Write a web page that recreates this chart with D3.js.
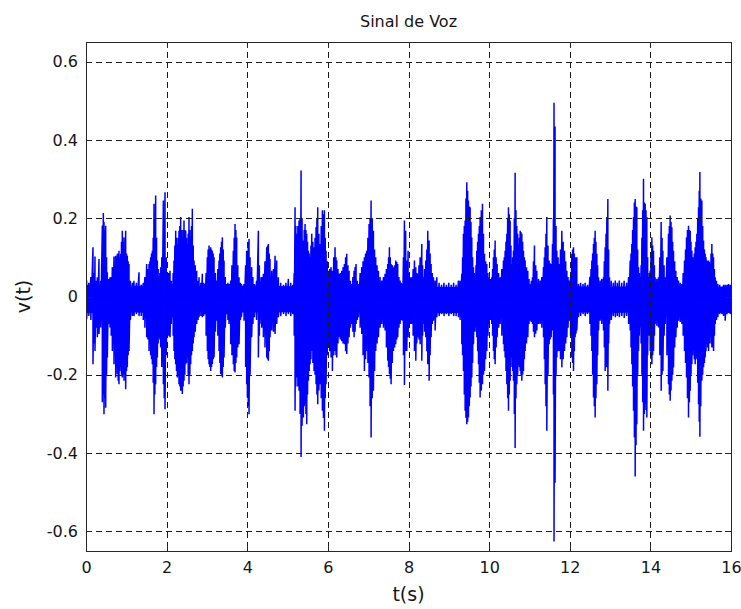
<!DOCTYPE html>
<html>
<head>
<meta charset="utf-8">
<script src="https://cdn.jsdelivr.net/npm/d3@7"></script>
<style>
  html, body { margin: 0; padding: 0; background: #ffffff; }
  svg { display: block; }
  text { font-family: "DejaVu Sans", "Liberation Sans", sans-serif; fill: #151515; }
</style>
</head>
<body>
<svg id="chart" width="741" height="609"></svg>
<script>
// ---- axis ticks ----
const xTicks = [0, 2, 4, 6, 8, 10, 12, 14, 16];
const xTickLabels = ["0", "2", "4", "6", "8", "10", "12", "14", "16"];
const yTicks = [-0.6, -0.4, -0.2, 0, 0.2, 0.4, 0.6];
const yTickLabels = ["-0.6", "-0.4", "-0.2", "0", "0.2", "0.4", "0.6"];

// ---- speech signal: per-instant positive / negative excursions (t in s, v(t)) ----
const tSec = [
  0, 0.016, 0.07, 0.12, 0.173, 0.2, 0.223, 0.25, 0.281, 0.322,
  0.364, 0.405, 0.43, 0.446, 0.47, 0.488, 0.51, 0.529, 0.56, 0.595,
  0.625, 0.653, 0.694, 0.736, 0.757, 0.777, 0.798, 0.818, 0.84, 0.86,
  0.88, 0.901, 0.92, 0.943, 0.963, 0.984, 1.005, 1.025, 1.046, 1.067,
  1.1, 1.15, 1.19, 1.25, 1.315, 1.37, 1.42, 1.46, 1.505, 1.535,
  1.563, 1.584, 1.604, 1.625, 1.646, 1.667, 1.687, 1.708, 1.728, 1.75,
  1.77, 1.79, 1.811, 1.832, 1.852, 1.88, 1.919, 1.94, 1.96, 1.99,
  2.018, 2.05, 2.084, 2.115, 2.142, 2.162, 2.183, 2.204, 2.225, 2.245,
  2.266, 2.287, 2.307, 2.328, 2.349, 2.37, 2.39, 2.41, 2.431, 2.452,
  2.473, 2.494, 2.514, 2.535, 2.555, 2.576, 2.597, 2.617, 2.638, 2.66,
  2.68, 2.71, 2.746, 2.78, 2.804, 2.85, 2.886, 2.92, 2.944, 2.98,
  3.01, 3.03, 3.052, 3.072, 3.093, 3.113, 3.134, 3.155, 3.176, 3.21,
  3.242, 3.27, 3.3, 3.32, 3.341, 3.362, 3.383, 3.404, 3.424, 3.455,
  3.49, 3.52, 3.548, 3.589, 3.62, 3.655, 3.676, 3.697, 3.718, 3.738,
  3.765, 3.796, 3.83, 3.854, 3.92, 3.96, 3.986, 4.003, 4.025, 4.044,
  4.07, 4.11, 4.14, 4.177, 4.23, 4.276, 4.3, 4.317, 4.36, 4.4,
  4.44, 4.483, 4.504, 4.524, 4.545, 4.565, 4.607, 4.65, 4.69, 4.731,
  4.772, 4.83, 4.9, 4.96, 5.02, 5.08, 5.13, 5.165, 5.186, 5.206,
  5.227, 5.256, 5.285, 5.31, 5.335, 5.36, 5.392, 5.413, 5.434, 5.455,
  5.475, 5.496, 5.517, 5.537, 5.558, 5.58, 5.6, 5.628, 5.657, 5.682,
  5.707, 5.728, 5.748, 5.777, 5.806, 5.835, 5.864, 5.89, 5.914, 5.935,
  5.955, 5.985, 6.013, 6.046, 6.079, 6.112, 6.145, 6.178, 6.2, 6.22,
  6.25, 6.277, 6.31, 6.344, 6.377, 6.41, 6.44, 6.468, 6.497, 6.526,
  6.56, 6.592, 6.62, 6.65, 6.675, 6.699, 6.73, 6.757, 6.8, 6.84,
  6.873, 6.906, 6.935, 6.964, 6.993, 7.022, 7.047, 7.072, 7.1, 7.13,
  7.158, 7.187, 7.22, 7.254, 7.295, 7.336, 7.378, 7.419, 7.452, 7.485,
  7.506, 7.527, 7.548, 7.568, 7.597, 7.626, 7.655, 7.684, 7.708, 7.733,
  7.762, 7.791, 7.82, 7.849, 7.875, 7.899, 7.93, 7.957, 7.99, 8.014,
  8.05, 8.081, 8.115, 8.148, 8.181, 8.205, 8.23, 8.26, 8.288, 8.33,
  8.35, 8.371, 8.4, 8.429, 8.455, 8.478, 8.512, 8.536, 8.561, 8.59,
  8.619, 8.66, 8.702, 8.76, 8.82, 8.88, 8.94, 9.0, 9.06, 9.12,
  9.18, 9.239, 9.28, 9.322, 9.342, 9.363, 9.384, 9.405, 9.425, 9.446,
  9.467, 9.487, 9.508, 9.529, 9.55, 9.57, 9.59, 9.612, 9.632, 9.653,
  9.674, 9.694, 9.715, 9.736, 9.756, 9.777, 9.806, 9.835, 9.86, 9.885,
  9.914, 9.942, 9.97, 10.0, 10.033, 10.066, 10.087, 10.108, 10.128, 10.149,
  10.174, 10.199, 10.236, 10.273, 10.315, 10.356, 10.377, 10.397, 10.418, 10.439,
  10.46, 10.48, 10.5, 10.521, 10.542, 10.563, 10.584, 10.604, 10.625, 10.645,
  10.666, 10.687, 10.708, 10.728, 10.75, 10.77, 10.79, 10.811, 10.832, 10.852,
  10.873, 10.894, 10.927, 10.96, 10.99, 11.018, 11.047, 11.076, 11.1, 11.125,
  11.155, 11.183, 11.225, 11.266, 11.307, 11.349, 11.37, 11.39, 11.41, 11.431,
  11.46, 11.489, 11.514, 11.539, 11.572, 11.595, 11.61, 11.635, 11.66, 11.68,
  11.71, 11.737, 11.77, 11.804, 11.837, 11.87, 11.9, 11.928, 11.957, 11.986,
  12.02, 12.051, 12.072, 12.093, 12.113, 12.134, 12.155, 12.175, 12.217, 12.27,
  12.33, 12.382, 12.44, 12.5, 12.528, 12.548, 12.568, 12.589, 12.61, 12.63,
  12.65, 12.672, 12.692, 12.713, 12.754, 12.795, 12.837, 12.858, 12.879, 12.9,
  12.92, 12.945, 12.965, 12.986, 13.03, 13.08, 13.13, 13.18, 13.23, 13.29,
  13.35, 13.41, 13.46, 13.499, 13.52, 13.54, 13.56, 13.582, 13.603, 13.623,
  13.644, 13.664, 13.685, 13.706, 13.726, 13.747, 13.77, 13.79, 13.81, 13.83,
  13.85, 13.871, 13.891, 13.912, 13.933, 13.954, 13.975, 13.995, 14.016, 14.037,
  14.057, 14.078, 14.1, 14.119, 14.16, 14.202, 14.235, 14.268, 14.29, 14.31,
  14.34, 14.367, 14.41, 14.45, 14.47, 14.491, 14.512, 14.533, 14.553, 14.574,
  14.603, 14.632, 14.665, 14.698, 14.74, 14.781, 14.814, 14.847, 14.872, 14.897,
  14.92, 14.946, 14.967, 14.988, 15.008, 15.029, 15.05, 15.07, 15.09, 15.112,
  15.132, 15.153, 15.174, 15.195, 15.212, 15.228, 15.25, 15.277, 15.298, 15.319,
  15.34, 15.36, 15.38, 15.401, 15.422, 15.443, 15.463, 15.484, 15.505, 15.525,
  15.546, 15.567, 15.588, 15.608, 15.64, 15.674, 15.72, 15.774, 15.815, 15.856,
  15.9, 15.939, 15.98, 16
];
const vPeak = [
  0.03, 0.041, 0.035, 0.05, 0.126, 0.06, 0.102, 0.04, 0.049, 0.096,
  0.04, 0.181, 0.213, 0.19, 0.17, 0.181, 0.1, 0.062, 0.045, 0.049,
  0.05, 0.075, 0.102, 0.104, 0.1, 0.109, 0.11, 0.117, 0.1, 0.109,
  0.14, 0.168, 0.14, 0.151, 0.12, 0.168, 0.11, 0.104, 0.09, 0.083,
  0.04, 0.035, 0.04, 0.035, 0.062, 0.03, 0.035, 0.05, 0.083, 0.07,
  0.083, 0.09, 0.1, 0.11, 0.117, 0.15, 0.237, 0.2, 0.258, 0.15,
  0.092, 0.07, 0.049, 0.06, 0.075, 0.1, 0.245, 0.2, 0.266, 0.1,
  0.049, 0.06, 0.066, 0.04, 0.032, 0.06, 0.092, 0.13, 0.168, 0.15,
  0.134, 0.15, 0.168, 0.18, 0.203, 0.17, 0.151, 0.17, 0.194, 0.17,
  0.168, 0.15, 0.134, 0.16, 0.203, 0.17, 0.151, 0.18, 0.224, 0.13,
  0.092, 0.08, 0.066, 0.04, 0.049, 0.035, 0.058, 0.035, 0.032, 0.06,
  0.1, 0.12, 0.13, 0.12, 0.126, 0.12, 0.117, 0.11, 0.1, 0.06,
  0.041, 0.07, 0.092, 0.11, 0.126, 0.14, 0.151, 0.12, 0.092, 0.05,
  0.032, 0.035, 0.032, 0.041, 0.08, 0.117, 0.15, 0.185, 0.17, 0.151,
  0.08, 0.049, 0.035, 0.032, 0.032, 0.08, 0.117, 0.117, 0.14, 0.147,
  0.1, 0.075, 0.05, 0.032, 0.04, 0.168, 0.08, 0.049, 0.05, 0.058,
  0.09, 0.126, 0.13, 0.134, 0.11, 0.096, 0.066, 0.07, 0.104, 0.092,
  0.049, 0.035, 0.03, 0.035, 0.045, 0.035, 0.03, 0.06, 0.228, 0.18,
  0.16, 0.18, 0.194, 0.2, 0.322, 0.2, 0.143, 0.17, 0.185, 0.17,
  0.16, 0.14, 0.117, 0.11, 0.1, 0.13, 0.16, 0.14, 0.126, 0.15,
  0.177, 0.2, 0.228, 0.16, 0.134, 0.18, 0.22, 0.21, 0.22, 0.15,
  0.117, 0.09, 0.066, 0.07, 0.075, 0.066, 0.1, 0.126, 0.1, 0.092,
  0.07, 0.058, 0.06, 0.066, 0.075, 0.083, 0.1, 0.109, 0.08, 0.066,
  0.04, 0.032, 0.05, 0.066, 0.075, 0.083, 0.04, 0.032, 0.06, 0.075,
  0.09, 0.1, 0.11, 0.117, 0.15, 0.185, 0.2, 0.245, 0.2, 0.168,
  0.12, 0.1, 0.08, 0.066, 0.05, 0.041, 0.05, 0.058, 0.07, 0.083,
  0.1, 0.126, 0.1, 0.083, 0.08, 0.075, 0.08, 0.092, 0.088, 0.083,
  0.05, 0.041, 0.035, 0.032, 0.1, 0.194, 0.168, 0.092, 0.117, 0.06,
  0.049, 0.049, 0.07, 0.092, 0.075, 0.06, 0.058, 0.08, 0.1, 0.134,
  0.08, 0.049, 0.07, 0.092, 0.12, 0.168, 0.143, 0.11, 0.083, 0.06,
  0.049, 0.041, 0.049, 0.035, 0.03, 0.035, 0.03, 0.035, 0.03, 0.035,
  0.03, 0.041, 0.04, 0.058, 0.1, 0.16, 0.18, 0.194, 0.25, 0.292,
  0.27, 0.245, 0.23, 0.228, 0.19, 0.151, 0.1, 0.075, 0.06, 0.049,
  0.08, 0.117, 0.14, 0.16, 0.18, 0.203, 0.22, 0.237, 0.16, 0.109,
  0.09, 0.083, 0.06, 0.049, 0.045, 0.049, 0.07, 0.1, 0.12, 0.143,
  0.1, 0.083, 0.06, 0.049, 0.07, 0.092, 0.1, 0.117, 0.14, 0.16,
  0.2, 0.228, 0.21, 0.194, 0.13, 0.083, 0.1, 0.117, 0.2, 0.316,
  0.22, 0.18, 0.16, 0.134, 0.15, 0.168, 0.165, 0.16, 0.14, 0.117,
  0.1, 0.092, 0.075, 0.066, 0.045, 0.032, 0.04, 0.049, 0.09, 0.13,
  0.08, 0.066, 0.045, 0.041, 0.05, 0.075, 0.1, 0.126, 0.16, 0.203,
  0.13, 0.092, 0.085, 0.083, 0.134, 0.2, 0.495, 0.434, 0.18, 0.117,
  0.1, 0.083, 0.12, 0.168, 0.14, 0.117, 0.09, 0.066, 0.05, 0.041,
  0.05, 0.109, 0.12, 0.126, 0.11, 0.1, 0.1, 0.1, 0.032, 0.035,
  0.032, 0.035, 0.03, 0.05, 0.07, 0.092, 0.11, 0.134, 0.15, 0.168,
  0.14, 0.109, 0.08, 0.049, 0.041, 0.045, 0.049, 0.09, 0.126, 0.16,
  0.203, 0.249, 0.12, 0.049, 0.04, 0.035, 0.041, 0.035, 0.041, 0.035,
  0.04, 0.035, 0.05, 0.092, 0.11, 0.134, 0.17, 0.203, 0.24, 0.249,
  0.23, 0.228, 0.12, 0.075, 0.06, 0.049, 0.08, 0.15, 0.22, 0.301,
  0.24, 0.237, 0.22, 0.203, 0.1, 0.049, 0.06, 0.066, 0.11, 0.151,
  0.13, 0.117, 0.08, 0.049, 0.045, 0.049, 0.1, 0.19, 0.15, 0.117,
  0.08, 0.049, 0.1, 0.16, 0.18, 0.207, 0.19, 0.177, 0.14, 0.117,
  0.09, 0.066, 0.05, 0.041, 0.035, 0.032, 0.06, 0.092, 0.12, 0.151,
  0.17, 0.181, 0.17, 0.168, 0.14, 0.117, 0.1, 0.092, 0.11, 0.126,
  0.14, 0.16, 0.2, 0.228, 0.27, 0.318, 0.25, 0.245, 0.18, 0.143,
  0.12, 0.109, 0.1, 0.092, 0.09, 0.092, 0.088, 0.083, 0.11, 0.134,
  0.11, 0.1, 0.07, 0.049, 0.04, 0.032, 0.03, 0.025, 0.03, 0.03,
  0.03, 0.032, 0.03, 0.028
];
const vTrough = [
  -0.045, -0.058, -0.05, -0.06, -0.173, -0.12, -0.139, -0.08, -0.104, -0.096,
  -0.079, -0.27, -0.25, -0.301, -0.26, -0.284, -0.2, -0.156, -0.07, -0.079,
  -0.1, -0.139, -0.173, -0.207, -0.181, -0.198, -0.215, -0.224, -0.19, -0.181,
  -0.2, -0.207, -0.2, -0.215, -0.2, -0.237, -0.19, -0.181, -0.15, -0.139,
  -0.06, -0.05, -0.05, -0.045, -0.05, -0.05, -0.06, -0.08, -0.104, -0.11,
  -0.139, -0.12, -0.15, -0.16, -0.173, -0.22, -0.301, -0.25, -0.224, -0.18,
  -0.156, -0.12, -0.104, -0.11, -0.13, -0.18, -0.224, -0.26, -0.288, -0.15,
  -0.104, -0.1, -0.104, -0.07, -0.053, -0.1, -0.139, -0.16, -0.173, -0.19,
  -0.207, -0.2, -0.224, -0.23, -0.241, -0.24, -0.249, -0.23, -0.215, -0.2,
  -0.173, -0.17, -0.156, -0.2, -0.224, -0.2, -0.173, -0.15, -0.139, -0.12,
  -0.104, -0.09, -0.07, -0.06, -0.053, -0.05, -0.053, -0.05, -0.045, -0.1,
  -0.139, -0.16, -0.173, -0.18, -0.19, -0.18, -0.173, -0.16, -0.156, -0.09,
  -0.062, -0.1, -0.139, -0.17, -0.198, -0.2, -0.207, -0.18, -0.156, -0.08,
  -0.045, -0.06, -0.07, -0.122, -0.15, -0.173, -0.19, -0.194, -0.17, -0.156,
  -0.13, -0.122, -0.06, -0.053, -0.062, -0.18, -0.224, -0.258, -0.28, -0.301,
  -0.2, -0.104, -0.07, -0.053, -0.06, -0.156, -0.1, -0.07, -0.08, -0.104,
  -0.13, -0.156, -0.16, -0.164, -0.14, -0.104, -0.087, -0.09, -0.096, -0.07,
  -0.053, -0.05, -0.045, -0.05, -0.045, -0.05, -0.045, -0.1, -0.292, -0.23,
  -0.207, -0.23, -0.241, -0.3, -0.41, -0.33, -0.309, -0.28, -0.275, -0.3,
  -0.326, -0.25, -0.215, -0.19, -0.173, -0.16, -0.139, -0.17, -0.19, -0.2,
  -0.224, -0.25, -0.275, -0.24, -0.224, -0.26, -0.292, -0.31, -0.343, -0.26,
  -0.224, -0.15, -0.122, -0.14, -0.156, -0.19, -0.15, -0.139, -0.15, -0.156,
  -0.12, -0.104, -0.11, -0.114, -0.12, -0.122, -0.14, -0.147, -0.12, -0.104,
  -0.08, -0.07, -0.09, -0.104, -0.09, -0.07, -0.06, -0.053, -0.08, -0.096,
  -0.15, -0.19, -0.16, -0.139, -0.17, -0.207, -0.28, -0.36, -0.26, -0.241,
  -0.19, -0.139, -0.12, -0.104, -0.08, -0.07, -0.08, -0.087, -0.13, -0.164,
  -0.18, -0.198, -0.21, -0.224, -0.17, -0.139, -0.13, -0.122, -0.11, -0.104,
  -0.08, -0.07, -0.06, -0.062, -0.15, -0.226, -0.139, -0.139, -0.104, -0.07,
  -0.07, -0.07, -0.1, -0.139, -0.164, -0.12, -0.104, -0.11, -0.122, -0.164,
  -0.1, -0.07, -0.09, -0.104, -0.14, -0.173, -0.215, -0.15, -0.104, -0.07,
  -0.062, -0.087, -0.053, -0.05, -0.045, -0.05, -0.045, -0.05, -0.045, -0.05,
  -0.05, -0.053, -0.06, -0.122, -0.15, -0.19, -0.25, -0.292, -0.31, -0.326,
  -0.32, -0.309, -0.28, -0.258, -0.23, -0.207, -0.17, -0.122, -0.09, -0.079,
  -0.09, -0.104, -0.14, -0.173, -0.22, -0.258, -0.24, -0.224, -0.2, -0.19,
  -0.16, -0.139, -0.1, -0.07, -0.06, -0.07, -0.1, -0.139, -0.16, -0.173,
  -0.13, -0.104, -0.08, -0.07, -0.1, -0.122, -0.14, -0.156, -0.19, -0.224,
  -0.26, -0.292, -0.25, -0.215, -0.18, -0.156, -0.19, -0.215, -0.3, -0.387,
  -0.26, -0.224, -0.2, -0.173, -0.18, -0.19, -0.2, -0.215, -0.2, -0.19,
  -0.16, -0.139, -0.12, -0.104, -0.07, -0.062, -0.065, -0.07, -0.09, -0.104,
  -0.095, -0.087, -0.07, -0.07, -0.08, -0.104, -0.16, -0.224, -0.28, -0.343,
  -0.2, -0.122, -0.11, -0.104, -0.087, -0.25, -0.626, -0.476, -0.2, -0.156,
  -0.14, -0.139, -0.16, -0.181, -0.16, -0.139, -0.12, -0.104, -0.08, -0.062,
  -0.1, -0.156, -0.17, -0.19, -0.14, -0.104, -0.095, -0.087, -0.053, -0.05,
  -0.045, -0.05, -0.045, -0.07, -0.1, -0.139, -0.2, -0.258, -0.28, -0.309,
  -0.26, -0.224, -0.15, -0.087, -0.062, -0.07, -0.087, -0.13, -0.19, -0.18,
  -0.181, -0.241, -0.12, -0.07, -0.06, -0.05, -0.053, -0.05, -0.053, -0.05,
  -0.055, -0.05, -0.07, -0.087, -0.13, -0.173, -0.23, -0.292, -0.36, -0.46,
  -0.38, -0.326, -0.2, -0.139, -0.1, -0.079, -0.12, -0.2, -0.27, -0.343,
  -0.3, -0.275, -0.29, -0.309, -0.15, -0.05, -0.1, -0.139, -0.16, -0.173,
  -0.15, -0.139, -0.1, -0.07, -0.075, -0.079, -0.15, -0.241, -0.2, -0.19,
  -0.1, -0.07, -0.15, -0.224, -0.25, -0.266, -0.24, -0.215, -0.2, -0.181,
  -0.13, -0.104, -0.08, -0.062, -0.065, -0.07, -0.1, -0.139, -0.17, -0.207,
  -0.26, -0.309, -0.27, -0.241, -0.2, -0.173, -0.15, -0.139, -0.16, -0.173,
  -0.16, -0.156, -0.22, -0.275, -0.32, -0.358, -0.28, -0.215, -0.2, -0.181,
  -0.17, -0.156, -0.14, -0.122, -0.13, -0.139, -0.12, -0.104, -0.12, -0.13,
  -0.13, -0.139, -0.1, -0.07, -0.06, -0.053, -0.045, -0.045, -0.05, -0.062,
  -0.045, -0.036, -0.045, -0.04
];

// ---- continuous background noise floor (t in s) ----
const noiseT  = [0, 1, 2, 3, 4, 5, 6, 7, 8, 9, 10, 11, 12, 13, 14, 15, 16];
const noiseHi = [0.03, 0.028, 0.027, 0.028, 0.028, 0.026, 0.028, 0.027, 0.027, 0.024, 0.027, 0.028, 0.026, 0.025, 0.027, 0.026, 0.025];
const noiseLo = [-0.042, -0.04, -0.042, -0.04, -0.041, -0.04, -0.042, -0.04, -0.041, -0.043, -0.04, -0.042, -0.04, -0.042, -0.04, -0.041, -0.042];

// ---- layout ----
const plot = { left: 86, right: 731, top: 42, bottom: 551 };
const tickLen = 6;
const axisColor = "#262626";

const svg = d3.select("#chart");

const x = d3.scaleLinear().domain([0, 16]).range([plot.left, plot.right]);
const y = d3.scaleLinear().domain([-0.65, 0.65]).range([plot.bottom, plot.top]);

svg.append("defs").append("clipPath").attr("id", "plotClip")
  .append("rect")
  .attr("x", plot.left).attr("y", plot.top)
  .attr("width", plot.right - plot.left).attr("height", plot.bottom - plot.top);

// white axes background
svg.append("rect")
  .attr("x", plot.left).attr("y", plot.top)
  .attr("width", plot.right - plot.left).attr("height", plot.bottom - plot.top)
  .attr("fill", "#ffffff");

// ---- signal ----
const dataG = svg.append("g").attr("clip-path", "url(#plotClip)");

const noiseArea = d3.area()
  .x(i => x(noiseT[i]))
  .y0(i => y(noiseLo[i]))
  .y1(i => y(noiseHi[i]));

dataG.append("path")
  .datum(d3.range(noiseT.length))
  .attr("d", noiseArea)
  .attr("fill", "#0000ff");

// each instant is drawn from its peak down to its trough, then on to the next peak
const wavePts = tSec.flatMap((t, i) => [[t, vPeak[i]], [t, vTrough[i]]]);
const waveLine = d3.line().x(d => x(d[0])).y(d => y(d[1]));

dataG.append("path")
  .datum(wavePts)
  .attr("d", waveLine)
  .attr("fill", "none")
  .attr("stroke", "#0000ff")
  .attr("stroke-width", 1.5)
  .attr("stroke-linejoin", "bevel");

// ---- dashed grid (drawn over the signal) ----
const gridG = svg.append("g")
  .attr("stroke", "#1a1a1a")
  .attr("stroke-width", 1)
  .attr("stroke-dasharray", "6,4")
  .attr("shape-rendering", "crispEdges");

gridG.selectAll("line.gx")
  .data(xTicks.filter(v => v > 0 && v < 16))
  .join("line")
  .attr("class", "gx")
  .attr("x1", d => Math.round(x(d)) + 0.5).attr("x2", d => Math.round(x(d)) + 0.5)
  .attr("y1", plot.top).attr("y2", plot.bottom);

gridG.selectAll("line.gy")
  .data(yTicks)
  .join("line")
  .attr("class", "gy")
  .attr("x1", plot.left).attr("x2", plot.right)
  .attr("y1", d => Math.round(y(d)) + 0.5).attr("y2", d => Math.round(y(d)) + 0.5);

// ---- axes (ticks point inward on all four sides) ----
const fontPx = 16;

const xAxisB = d3.axisBottom(x).tickValues(xTicks)
  .tickSizeInner(-tickLen).tickSizeOuter(0).tickPadding(11)
  .tickFormat((d, i) => xTickLabels[i]);
const xAxisT = d3.axisTop(x).tickValues(xTicks)
  .tickSizeInner(-tickLen).tickSizeOuter(0).tickFormat("");
const yAxisL = d3.axisLeft(y).tickValues(yTicks)
  .tickSizeInner(-tickLen).tickSizeOuter(0).tickPadding(8)
  .tickFormat((d, i) => yTickLabels[i]);
const yAxisR = d3.axisRight(y).tickValues(yTicks)
  .tickSizeInner(-tickLen).tickSizeOuter(0).tickFormat("");

function styleAxis(g) {
  g.selectAll("path.domain").remove();
  g.selectAll(".tick line").attr("stroke", axisColor).attr("shape-rendering", "crispEdges");
  g.selectAll(".tick text")
    .attr("fill", "#151515")
    .style("font-family", '"DejaVu Sans", sans-serif')
    .style("font-size", fontPx + "px");
  g.attr("font-family", null).attr("font-size", null);
}

svg.append("g").attr("transform", `translate(0,${plot.bottom})`).call(xAxisB).call(styleAxis);
svg.append("g").attr("transform", `translate(0,${plot.top})`).call(xAxisT).call(styleAxis);
svg.append("g").attr("transform", `translate(${plot.left},0)`).call(yAxisL).call(styleAxis);
svg.append("g").attr("transform", `translate(${plot.right},0)`).call(yAxisR).call(styleAxis);

// axes box
svg.append("rect")
  .attr("x", plot.left + 0.5).attr("y", plot.top + 0.5)
  .attr("width", plot.right - plot.left).attr("height", plot.bottom - plot.top)
  .attr("fill", "none")
  .attr("stroke", axisColor)
  .attr("stroke-width", 1.2)
  .attr("shape-rendering", "crispEdges");

// ---- titles ----
svg.append("text")
  .attr("x", (plot.left + plot.right) / 2)
  .attr("y", 27)
  .attr("text-anchor", "middle")
  .style("font-size", "16px")
  .text("Sinal de Voz");

svg.append("text")
  .attr("x", (plot.left + plot.right) / 2)
  .attr("y", 601)
  .attr("text-anchor", "middle")
  .style("font-size", "19px")
  .text("t(s)");

svg.append("text")
  .attr("transform", `translate(30,${y(0)}) rotate(-90)`)
  .attr("text-anchor", "middle")
  .style("font-size", "19px")
  .text("v(t)");
</script>
</body>
</html>
